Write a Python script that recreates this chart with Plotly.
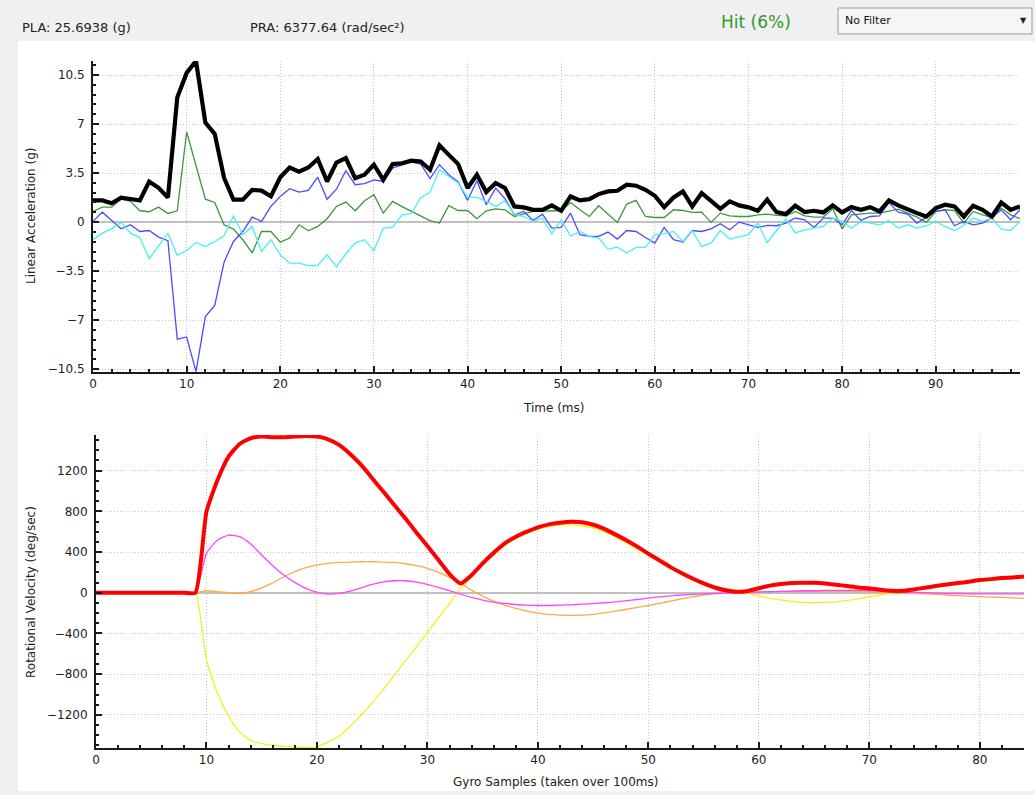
import plotly.graph_objects as go

W, H = 1035, 795

# ---------------- data: top chart (linear acceleration, g) ----------------
time_ms = list(range(100))
acc_mag = [1.55,1.55,1.35,1.75,1.65,1.55,2.9,2.45,1.75,8.9,10.65,11.5,7.1,6.3,3.15,1.6,1.6,2.3,2.25,1.85,3.2,3.9,3.6,3.9,4.5,2.9,4.25,
           4.57,3.14,3.38,4.1,3.02,4.14,4.2,4.38,4.33,3.74,5.48,4.8,4.14,2.43,3.38,2.14,2.79,2.43,1.12,1.05,0.88,0.88,1.19,0.81,1.83,
           1.55,1.64,2.0,2.19,2.24,2.67,2.6,2.31,1.88,1.07,1.76,2.19,1.12,2.07,1.52,0.95,1.48,1.19,1.05,0.81,1.6,0.71,0.57,1.17,0.72,
           0.81,0.69,1.19,0.69,1.07,0.88,1.07,0.76,1.55,1.19,0.88,0.64,0.4,1.0,1.24,1.12,0.4,1.17,0.88,0.4,1.4,0.88,1.12]
acc_x = [0.76,1.07,1.07,1.64,1.48,0.81,0.74,1.07,0.62,0.81,6.43,3.98,1.64,1.4,-0.19,-0.5,-1.26,-2.2,-0.67,-0.67,-1.43,-1.14,-0.19,-0.62,-0.31,0.24,1.12,
         1.43,0.81,1.52,1.95,0.64,1.48,1.1,0.75,0.4,0.1,-0.07,1.17,0.83,0.83,0.24,0.81,0.95,0.88,0.4,0.57,0.76,0.76,0.81,0.8,1.4,
         0.88,0.4,1.17,0.57,-0.02,1.29,1.55,0.4,0.33,0.33,0.88,0.83,0.69,0.71,-0.02,0.64,0.45,0.4,0.4,0.52,0.57,0.48,0.45,0.76,0.45,
         0.36,0.36,0.95,-0.48,0.52,0.6,0.64,0.64,0.76,0.93,0.64,0.36,-0.02,0.76,0.88,0.83,-0.07,0.76,0.52,0.33,1.0,0.52,0.24]
acc_y = [0.05,0.71,0.12,-0.48,-0.19,-0.67,-0.6,-1.07,-1.33,-8.36,-8.2,-10.67,-6.74,-5.95,-2.86,-1.38,-0.67,0.36,0.05,1.12,1.83,2.38,2.14,2.26,3.21,1.63,2.35,
         3.67,2.67,2.74,3.02,2.9,3.86,4.1,4.29,4.14,3.1,4.1,3.38,2.86,1.55,2.95,1.24,2.43,1.67,0.52,0.76,0.12,0.57,-0.43,-0.38,0.64,
         -0.9,-1.02,-1.02,-0.71,-1.21,-0.6,-0.67,-1.1,-1.5,-0.38,-1.26,-1.43,-0.6,-0.67,-0.48,-0.12,-0.55,0.0,-0.19,-0.38,-0.24,-0.26,-0.07,0.29,0.16,
         -0.38,0.29,0.29,-0.19,0.83,0.12,0.4,0.45,1.4,0.71,0.57,-0.07,0.33,0.76,0.88,-0.26,0.05,-0.19,-0.07,0.29,0.88,0.17,0.88]
acc_z = [-1.26,-0.79,-0.48,-0.02,-0.79,-1.1,-2.62,-1.69,-0.79,-2.38,-2.02,-1.45,-1.74,-1.38,-0.98,0.45,-0.9,-0.31,-2.1,-1.26,-2.33,-2.93,-2.93,-3.1,-3.1,-2.33,-3.2,
         -2.26,-1.5,-1.26,-2.05,-0.43,-0.38,0.52,0.6,1.76,2.12,3.74,3.26,2.79,1.76,1.76,1.48,1.12,1.52,0.57,0.4,0.05,0.29,-0.83,0.17,-1.0,
         -0.67,-1.02,-1.14,-1.93,-1.79,-2.21,-1.81,-1.81,-0.9,-0.83,-0.67,-1.38,-0.6,-1.74,-1.5,-0.6,-1.21,-1.07,-0.9,-0.07,-1.45,-0.6,0.24,-0.77,-0.55,
         -0.43,-0.31,0.29,0.05,-0.43,0.05,-0.07,-0.19,0.1,-0.43,-0.19,-0.43,-0.26,0.05,-0.31,-0.6,-0.24,0.29,0.05,0.29,-0.5,-0.6,0.05]

# ---------------- data: bottom chart (rotational velocity, deg/sec) ----------------
gyro_samples = list(range(85))
rot_mag = [0]*10 + [797,1108,1338,1462,1518,1535,1528,1528,1535,1541,1535,1508,1453,1364,1256,1125,994,862,731,593,459,321,184,92,174,289,393,485,551,600,643,672,689,698,
           692,668,628,574,516,453,384,318,252,194,140,92,52,24,9,18,45,70,86,95,98,98,92,79,66,52,43,30,20,20,33,49,66,82,95,108,125,134,144,151,161]
rot_x = [0]*10 + [-662,-990,-1210,-1367,-1449,-1482,-1498,-1508,-1515,-1518,-1515,-1466,-1410,-1312,-1203,-1082,-951,-810,-669,-531,-390,-246,-105,43,157,269,374,466,534,584,623,649,666,668,
         656,635,598,550,492,430,366,302,238,180,126,80,44,20,6,-8,-30,-54,-71,-85,-95,-98,-95,-89,-75,-59,-39,-20,-3,7,32,48,64,79,90,102,117,125,133,139,149]
rot_y = [0]*10 + [20,10,0,-7,10,49,98,157,207,246,272,289,298,302,305,305,302,298,285,266,239,200,151,92,26,-33,-82,-121,-154,-180,-200,-213,-220,-223,
         -220,-212,-197,-181,-162,-143,-125,-104,-82,-60,-40,-22,-10,-3,1,4,8,10,12,13,14,14,14,13,12,10,8,5,2,-2,-6,-10,-16,-22,-28,-33,-38,-42,-46,-50,-56]
rot_z = [0]*10 + [387,518,567,551,479,371,266,174,102,43,3,-13,-7,16,49,82,108,118,118,105,82,52,20,-13,-46,-72,-92,-105,-115,-121,-125,-125,-121,-118,
         -112,-106,-98,-89,-78,-66,-52,-40,-30,-22,-15,-10,-6,-3,0,3,7,10,13,16,20,20,23,23,23,23,20,16,10,7,3,0,-3,-7,-7,-10,-10,-10,-10,-10,-10]

top_yticks = [-10.5, -7, -3.5, 0, 3.5, 7, 10.5]
top_xticks = [0, 10, 20, 30, 40, 50, 60, 70, 80, 90]
bot_yticks = [-1200, -800, -400, 0, 400, 800, 1200]
bot_xticks = [0, 10, 20, 30, 40, 50, 60, 70, 80]

header_pla = "PLA: 25.6938 (g)"
header_pra = "PRA: 6377.64 (rad/sec²)"
header_hit = "Hit (6%)"
filter_label = "No Filter"


def px(x):
    return x / W


def py(y):
    return 1 - y / H


fig = go.Figure()

# top traces
for vals, col, w in [(acc_x, "#3c983c", 1.3), (acc_y, "#4a4aff", 1.3),
                     (acc_z, "#44f2f2", 1.3), (acc_mag, "#000000", 4.2)]:
    fig.add_trace(go.Scatter(x=time_ms, y=vals, mode="lines", xaxis="x", yaxis="y",
                             line=dict(color=col, width=w), showlegend=False, hoverinfo="skip"))

# bottom traces (smooth curves)
for vals, col, w in [(rot_x, "#f2f21a", 1.3), (rot_y, "#ffaa44", 1.3),
                     (rot_z, "#ff44ff", 1.3), (rot_mag, "#ff0000", 4.0)]:
    fig.add_trace(go.Scatter(x=gyro_samples, y=vals, mode="lines", xaxis="x2", yaxis="y2",
                             line=dict(color=col, width=w, shape="spline", smoothing=0.5),
                             showlegend=False, hoverinfo="skip"))

axis_font = dict(family="DejaVu Sans", size=12, color="#222222")
grid = dict(showgrid=True, gridcolor="#c8c8c8", griddash="1px,2px", gridwidth=1)
common = dict(showline=True, linecolor="#1a1a1a", linewidth=2, ticks="inside", ticklen=6,
              tickcolor="#1a1a1a", tickwidth=1.5, tickfont=axis_font, automargin=False, **grid)

fig.update_layout(
    width=W, height=H,
    margin=dict(l=0, r=0, t=0, b=0),
    paper_bgcolor="#f0f0f0",
    plot_bgcolor="rgba(0,0,0,0)",
    font=dict(family="DejaVu Sans", size=12, color="#222222"),
    xaxis=dict(domain=[px(93), px(1020)], range=[0, 99], tickvals=top_xticks, anchor="y",
               zeroline=False, minor=dict(dtick=2, tick0=0, ticks="inside", ticklen=3,
                                          tickcolor="#1a1a1a", showgrid=False), **common),
    yaxis=dict(domain=[py(372), py(61)], range=[-10.7, 11.5], tickvals=top_yticks, anchor="x",
               zeroline=True, zerolinecolor="#c0c0c0", zerolinewidth=1.5,
               ticklabelstandoff=4,
               minor=dict(dtick=0.7, tick0=0, ticks="inside", ticklen=3,
                          tickcolor="#1a1a1a", showgrid=False), **common),
    xaxis2=dict(domain=[px(96), px(1024)], range=[0, 84], tickvals=bot_xticks, anchor="y2",
                zeroline=False, minor=dict(dtick=2, tick0=0, ticks="inside", ticklen=3,
                                           tickcolor="#1a1a1a", showgrid=False), **common),
    yaxis2=dict(domain=[py(748), py(435)], range=[-1525, 1550], tickvals=bot_yticks, anchor="x2",
                zeroline=True, zerolinecolor="#c0c0c0", zerolinewidth=1.5,
                ticklabelstandoff=4,
                minor=dict(dtick=100, tick0=0, ticks="inside", ticklen=3,
                           tickcolor="#1a1a1a", showgrid=False), **common),
)

shapes = [
    dict(type="rect", xref="paper", yref="paper", x0=px(18), x1=1, y0=py(791), y1=py(41),
         fillcolor="#ffffff", line=dict(width=0), layer="below"),
    dict(type="rect", xref="paper", yref="paper", x0=px(838), x1=px(1032), y0=py(34), y1=py(8),
         fillcolor="#f6f6f6", line=dict(color="#9a9a9a", width=1), layer="above"),
]
fig.update_layout(shapes=shapes)

ann = [
    dict(text=header_pla, x=px(20), y=py(28), xanchor="left", yanchor="middle",
         font=dict(family="DejaVu Sans", size=13, color="#222222")),
    dict(text=header_pra, x=px(248), y=py(28), xanchor="left", yanchor="middle",
         font=dict(family="DejaVu Sans", size=13, color="#222222")),
    dict(text=header_hit, x=px(756), y=py(22), xanchor="center", yanchor="middle",
         font=dict(family="DejaVu Sans", size=17, color="#2e9a2e")),
    dict(text=filter_label, x=px(843), y=py(21), xanchor="left", yanchor="middle",
         font=dict(family="DejaVu Sans", size=11, color="#111111")),
    dict(text="▼", x=px(1023), y=py(21), xanchor="center", yanchor="middle",
         font=dict(family="DejaVu Sans", size=8, color="#222222")),
    dict(text="Linear Acceleration (g)", x=px(31), y=py(216), xanchor="center", yanchor="middle",
         textangle=-90, font=axis_font),
    dict(text="Time (ms)", x=px(554), y=py(408), xanchor="center", yanchor="middle", font=axis_font),
    dict(text="Rotational Velocity (deg/sec)", x=px(31), y=py(592), xanchor="center", yanchor="middle",
         textangle=-90, font=axis_font),
    dict(text="Gyro Samples (taken over 100ms)", x=px(555), y=py(782), xanchor="center", yanchor="middle",
         font=axis_font),
]
for a in ann:
    a.update(xref="paper", yref="paper", showarrow=False)
fig.update_layout(annotations=ann)

fig.write_html("out.html")
